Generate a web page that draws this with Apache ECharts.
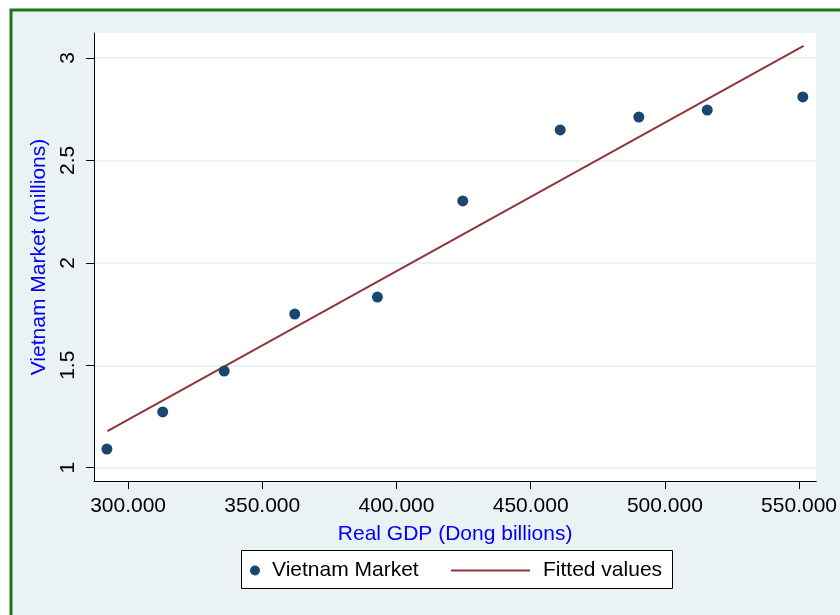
<!DOCTYPE html>
<html>
<head>
<meta charset="utf-8">
<title>Vietnam Market vs Real GDP</title>
<script src="https://cdn.jsdelivr.net/npm/echarts@6/dist/echarts.min.js"></script>
<style>
	html, body {margin: 0; padding: 0; background: #fff;}
	#chart {width: 840px; height: 615px;}
</style>
</head>
<body>
<div id="chart"></div>
<script>
// data
var gdp = [292100, 312900, 335800, 362100, 392900, 424700, 461000, 490300, 515800, 551400];
var market = [1.091, 1.272, 1.472, 1.750, 1.833, 2.302, 2.649, 2.712, 2.746, 2.810];
var fitGdp = [292300, 551700];
var fitValues = [1.179, 3.059];
var xTicks = [300000, 350000, 400000, 450000, 500000, 550000];
var yTicks = [1, 1.5, 2, 2.5, 3];

var font = 'Liberation Sans, Arial, sans-serif';

function fmtThousands(v){ //300000 -> 300.000
	return String(Math.round(v)).replace(/\B(?=(\d{3})+(?!\d))/g, '.');
}

function pairs(xs, ys){
	var out = [];
	for(var i=0; i<xs.length; i++){
		out.push([xs[i], ys[i]]);
	}
	return out;
}

var chart = echarts.init(document.getElementById('chart'), null, {renderer: 'canvas'});

var option = {
	backgroundColor: '#ffffff',
	animation: false,
	graphic: [
		{
			type: 'rect', z: -10, silent: true,
			shape: {x: 11, y: 10, width: 860, height: 640},
			style: {fill: '#eaf2f3', stroke: '#1a771a', lineWidth: 3}
		},
		{
			type: 'rect', z: 1, silent: true,
			shape: {x: 241.5, y: 550.5, width: 431, height: 38},
			style: {fill: '#ffffff', stroke: '#000000', lineWidth: 1}
		}
	],
	grid: {
		left: 94, top: 33, right: 19, bottom: 134,
		show: true, backgroundColor: '#ffffff', borderWidth: 0
	},
	xAxis: {
		type: 'value',
		min: 287300, max: 556400,
		name: 'Real GDP (Dong billions)',
		nameLocation: 'middle',
		nameGap: 43,
		nameTextStyle: {color: '#0000f0', fontSize: 21, fontFamily: font},
		axisLine: {show: true, onZero: false, lineStyle: {color: '#000', width: 1}},
		axisTick: {show: true, length: 8, customValues: xTicks, lineStyle: {color: '#000'}},
		axisLabel: {
			customValues: xTicks, margin: 15, color: '#000', fontSize: 21, fontFamily: font,
			formatter: fmtThousands
		},
		splitLine: {show: false}
	},
	yAxis: {
		type: 'value',
		min: 0.935, max: 3.122,
		name: 'Vietnam Market (millions)',
		nameLocation: 'middle',
		nameGap: 37,
		nameTextStyle: {color: '#0000f0', fontSize: 21, fontFamily: font},
		axisLine: {show: true, onZero: false, lineStyle: {color: '#000', width: 1}},
		axisTick: {show: true, length: 8, customValues: yTicks, lineStyle: {color: '#000'}},
		axisLabel: {
			customValues: yTicks, rotate: 90, margin: 15, color: '#000', fontSize: 21, fontFamily: font
		},
		splitLine: {show: true, lineStyle: {color: '#eaf2f3', width: 2}}
	},
	legend: [
		{
			data: ['Vietnam Market'],
			left: 250, top: 560, padding: 0,
			itemWidth: 24, itemHeight: 10,
			textStyle: {color: '#000', fontSize: 21, fontFamily: font}
		},
		{
			data: [{name: 'Fitted values', icon: 'rect'}],
			left: 451, top: 560, padding: 0,
			itemWidth: 79, itemHeight: 2,
			itemStyle: {color: '#90353b'},
			textStyle: {color: '#000', fontSize: 21, fontFamily: font, padding: [0, 0, 0, 8]}
		}
	],
	series: [
		{
			name: 'Vietnam Market',
			type: 'scatter',
			symbol: 'circle',
			symbolSize: 11,
			itemStyle: {color: '#1a476f', opacity: 1},
			data: pairs(gdp, market),
			z: 3
		},
		{
			name: 'Fitted values',
			type: 'line',
			symbol: 'none',
			lineStyle: {color: '#90353b', width: 2},
			itemStyle: {color: '#90353b'},
			data: pairs(fitGdp, fitValues),
			z: 2
		}
	]
};

chart.setOption(option);
</script>
</body>
</html>
